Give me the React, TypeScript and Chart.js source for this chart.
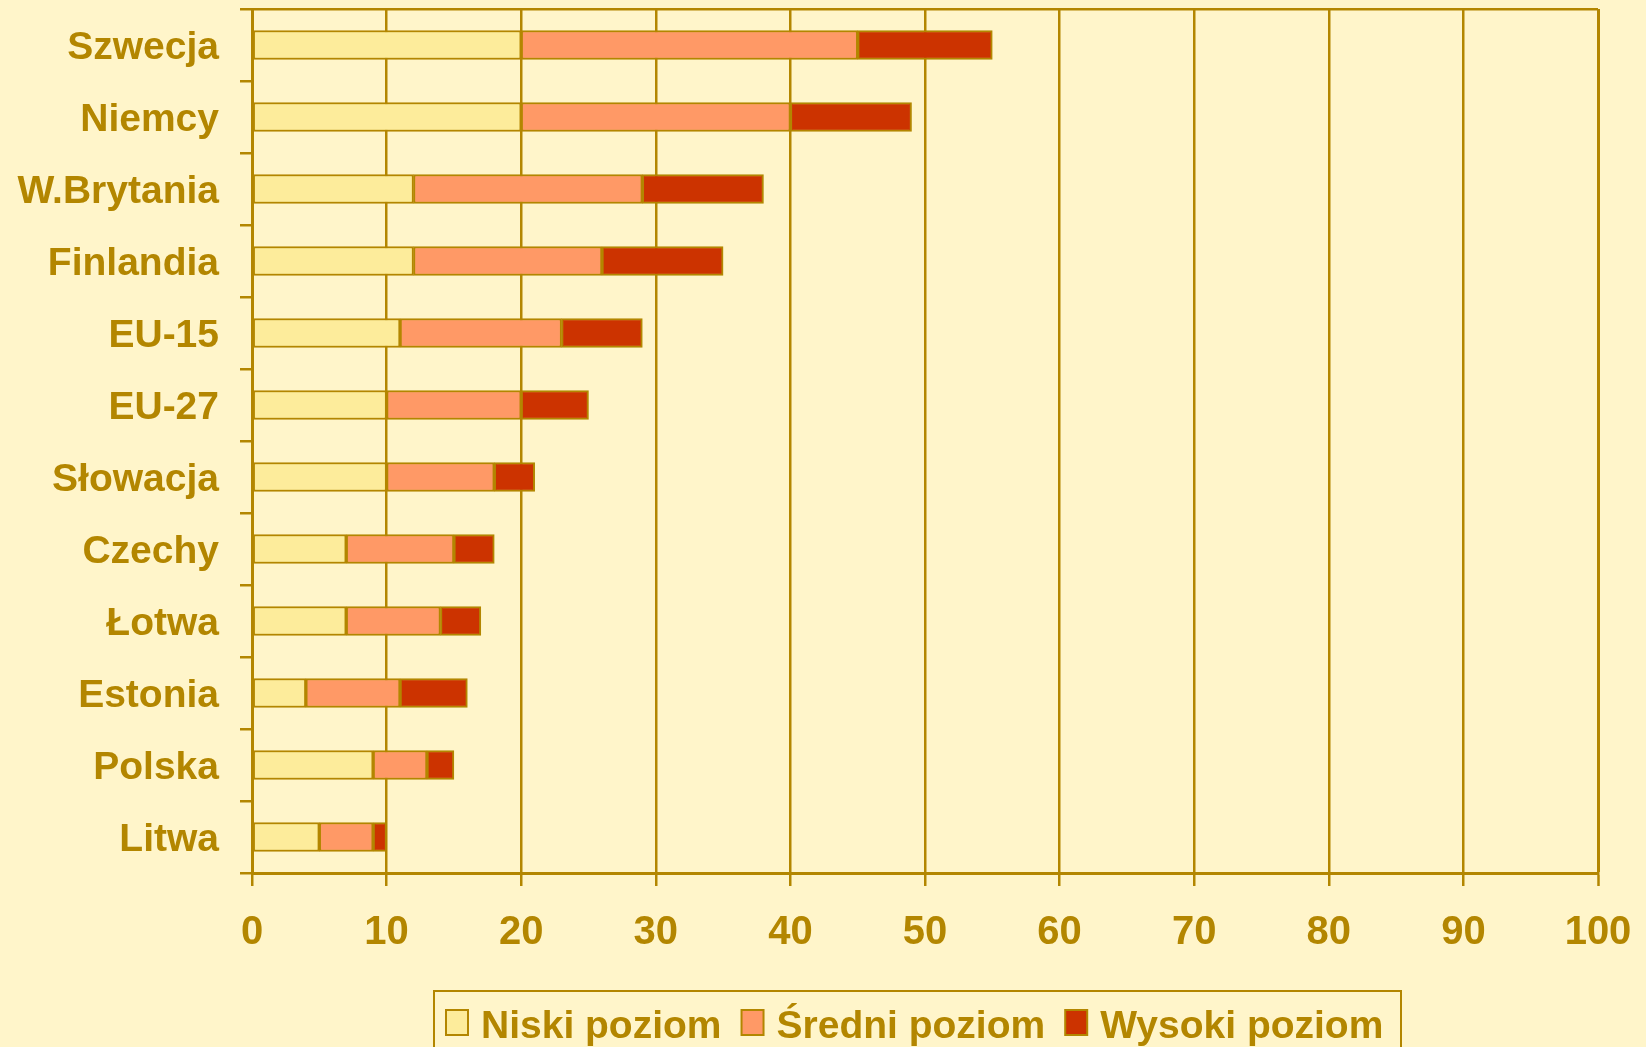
import React, { useEffect, useRef } from 'react';
import { Chart, registerables } from 'chart.js';

Chart.register(...registerables);

const categories = ['Szwecja', 'Niemcy', 'W.Brytania', 'Finlandia', 'EU-15', 'EU-27', 'Słowacja', 'Czechy', 'Łotwa', 'Estonia', 'Polska', 'Litwa'];
const niskiPoziom = [20, 20, 12, 12, 11, 10, 10, 7, 7, 4, 9, 5];
const sredniPoziom = [25, 20, 17, 14, 12, 10, 8, 8, 7, 7, 4, 4];
const wysokiPoziom = [10, 9, 9, 9, 6, 5, 3, 3, 3, 5, 2, 1];
const seriesNames = ['Niski poziom', 'Średni poziom', 'Wysoki poziom'];
const xMin = 0;
const xMax = 100;
const xStep = 10;

const BG = '#FFF5CA';
const GOLD = '#B38600';
const C_LOW = '#FDEC9B';
const C_MID = '#FF9966';
const C_HIGH = '#CC3300';
const FONT = '"Liberation Sans", Arial, sans-serif';

const bgPlugin = {
  id: 'bgFill',
  beforeDraw(chart: any) {
    const { ctx, width, height } = chart;
    ctx.save();
    ctx.fillStyle = BG;
    ctx.fillRect(0, 0, width, height);
    ctx.restore();
  },
};

const legendPlugin = {
  id: 'boxLegend',
  afterDraw(chart: any) {
    const ctx = chart.ctx;
    ctx.save();
    const boxL = 434, boxR = 1401, boxT = 991;
    ctx.fillStyle = BG;
    ctx.fillRect(boxL, boxT, boxR - boxL, 90);
    ctx.strokeStyle = GOLD;
    ctx.lineWidth = 2;
    ctx.strokeRect(boxL, boxT, boxR - boxL, 90);
    ctx.font = `bold 39px ${FONT}`;
    ctx.textBaseline = 'alphabetic';
    ctx.textAlign = 'left';
    let x = 446;
    chart.data.datasets.forEach((ds: any) => {
      ctx.fillStyle = ds.backgroundColor;
      ctx.fillRect(x, 1010, 22, 25);
      ctx.strokeStyle = GOLD;
      ctx.lineWidth = 2;
      ctx.strokeRect(x, 1010, 22, 25);
      x += 22 + 13;
      ctx.fillStyle = GOLD;
      ctx.fillText(ds.label, x, 1038);
      x += ctx.measureText(ds.label).width + 20;
    });
    ctx.restore();
  },
};

export default function App() {
  const ref = useRef<HTMLCanvasElement | null>(null);

  useEffect(() => {
    document.body.style.margin = '0';
    document.body.style.background = BG;
    const canvas = ref.current;
    if (!canvas) return;
    const chart = new Chart(canvas, {
      type: 'bar',
      data: {
        labels: categories,
        datasets: [
          { label: seriesNames[0], data: niskiPoziom, backgroundColor: C_LOW },
          { label: seriesNames[1], data: sredniPoziom, backgroundColor: C_MID },
          { label: seriesNames[2], data: wysokiPoziom, backgroundColor: C_HIGH },
        ].map((d) => ({
          ...d,
          borderColor: GOLD,
          borderWidth: 2,
          borderSkipped: false,
          barThickness: 29,
        })),
      },
      options: {
        indexAxis: 'y',
        responsive: false,
        animation: false,
        devicePixelRatio: 1,
        layout: { padding: { left: 0, right: 48, top: 9, bottom: 0 } },
        plugins: {
          legend: { display: false },
          tooltip: { enabled: false },
        },
        scales: {
          x: {
            stacked: true,
            min: xMin,
            max: xMax,
            ticks: {
              stepSize: xStep,
              color: GOLD,
              font: { family: FONT, size: 40, weight: 'bold' },
              padding: 23,
            },
            grid: {
              color: GOLD,
              tickColor: GOLD,
              lineWidth: (c: any) => (c.tick && c.tick.value === xMax ? 3 : 2.5),
              tickLength: 13,
              tickWidth: 2.5,
            },
            border: { display: true, color: GOLD, width: 3 },
            afterFit: (s: any) => {
              s.height = 174;
              s.paddingLeft = 0;
              s.paddingRight = 0;
            },
          },
          y: {
            stacked: true,
            ticks: {
              color: GOLD,
              font: { family: FONT, size: 39, weight: 'bold' },
              padding: 21,
              labelOffset: 3,
            },
            grid: {
              offset: true,
              color: (c: any) => (c.index === 0 ? GOLD : 'rgba(0,0,0,0)'),
              tickColor: GOLD,
              lineWidth: 2.5,
              tickLength: 12,
              tickWidth: 2.5,
            },
            border: { display: true, color: GOLD, width: 3 },
            afterFit: (s: any) => {
              s.width = 252;
              s.paddingTop = 0;
              s.paddingBottom = 0;
            },
          },
        },
      },
      plugins: [bgPlugin, legendPlugin],
    } as any);
    return () => chart.destroy();
  }, []);

  return (
    <div style={{ width: 1646, height: 1047, background: BG }}>
      <canvas ref={ref} width={1646} height={1047} style={{ display: 'block' }} />
    </div>
  );
}
